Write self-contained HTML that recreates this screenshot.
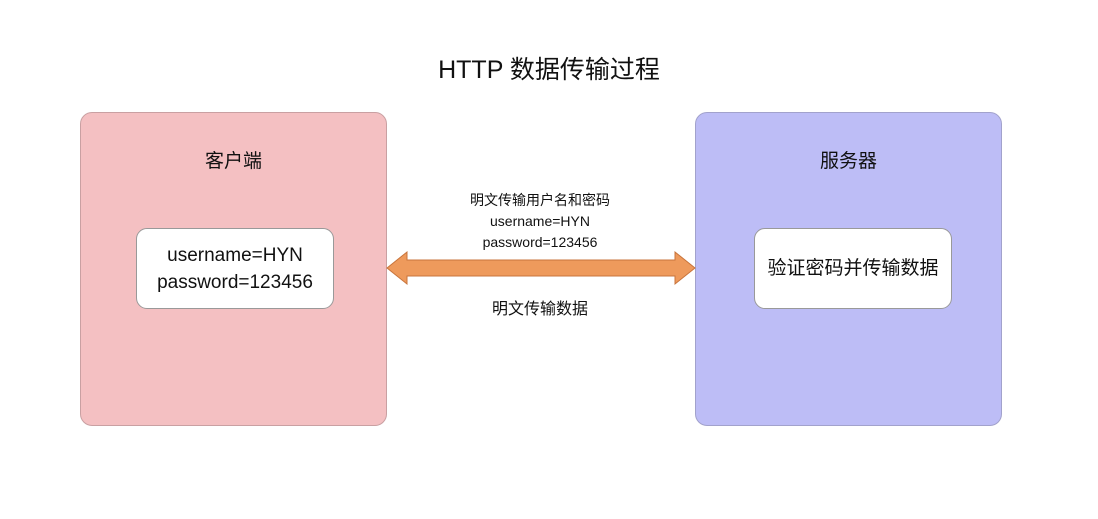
<!DOCTYPE html>
<html><head><meta charset="utf-8"><style>
body{margin:0;width:1098px;height:519px;background:#fff;position:relative;overflow:hidden;font-family:"Liberation Sans","Noto Sans CJK SC",sans-serif;color:#111}
.a{position:absolute}
.big{border:1px solid #b8a8a8;border-radius:12px}
.in{background:#fff;border:1px solid #999;border-radius:11px;display:flex;align-items:center;justify-content:center;text-align:center;font-size:19px;line-height:27px}
.c{text-align:center;white-space:nowrap}
</style></head><body>
<div class="a c" style="left:0;width:1098px;top:50px;font-size:25px">HTTP 数据传输过程</div>
<div class="a big" style="left:80px;top:112px;width:305px;height:312px;background:#f4c0c2;border-color:#c9a0a2"></div>
<div class="a big" style="left:695px;top:112px;width:305px;height:312px;background:#bdbdf6;border-color:#a2a2cc"></div>
<div class="a c" style="left:80px;width:307px;top:146px;font-size:19px">客户端</div>
<div class="a c" style="left:695px;width:307px;top:146px;font-size:19px">服务器</div>
<div class="a in" style="left:136px;top:228px;width:196px;height:79px">username=HYN<br>password=123456</div>
<div class="a in" style="left:754px;top:228px;width:196px;height:79px">验证密码并传输数据</div>
<div class="a c" style="left:390px;width:300px;top:190px;font-size:14px;line-height:21px">明文传输用户名和密码<br>username=HYN<br>password=123456</div>
<div class="a c" style="left:390px;width:300px;top:295px;font-size:16px">明文传输数据</div>
<svg class="a" style="left:0;top:0" width="1098" height="519">
<polygon points="387,268 407,252 407,260 675,260 675,252 695,268 675,284 675,276 407,276 407,284" fill="#ee9a5c" stroke="#c8743c" stroke-width="1"/>
</svg>
</body></html>
